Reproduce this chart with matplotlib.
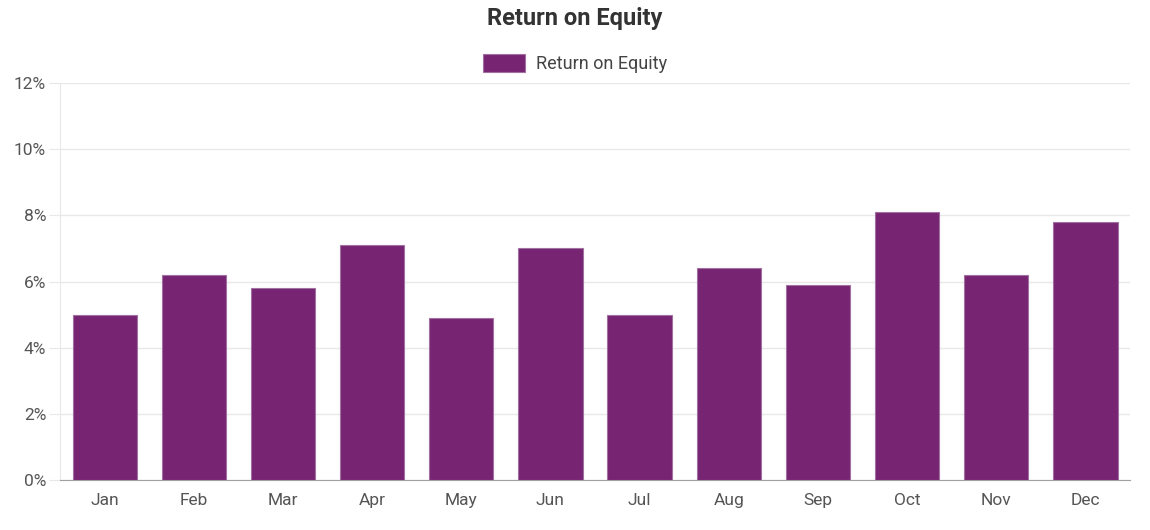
import matplotlib.pyplot as plt
from matplotlib.ticker import FuncFormatter

months = ['Jan', 'Feb', 'Mar', 'Apr', 'May', 'Jun', 'Jul', 'Aug', 'Sep', 'Oct', 'Nov', 'Dec']
roe = [5.0, 6.2, 5.8, 7.1, 4.9, 7.0, 5.0, 6.4, 5.9, 8.1, 6.2, 7.8]
yticks = [0, 2, 4, 6, 8, 10, 12]

plt.rcParams['font.family'] = ['Roboto', 'DejaVu Sans']

fig = plt.figure(figsize=(11.5, 5.3), dpi=100)
ax = fig.add_axes([0.0522, 0.0943, 0.9304, 0.7491])

ax.bar(range(len(months)), roe, width=0.72, color='#772572',
       edgecolor='#a070a0', linewidth=0.8, label='Return on Equity', zorder=3)

ax.set_xlim(-0.5, len(months) - 0.5)
ax.set_ylim(0, 12)
ax.set_yticks(yticks)
ax.yaxis.set_major_formatter(FuncFormatter(lambda v, p: f'{v:.0f}%'))
ax.set_xticks(range(len(months)))
ax.set_xticklabels(months)

ax.grid(axis='y', color='#e8e8e8', linewidth=1, zorder=0)
for s in ['top', 'right']:
    ax.spines[s].set_visible(False)
ax.spines['left'].set_color('#e8e8e8')
ax.spines['bottom'].set_color('#a0a0a0')
ax.tick_params(axis='y', length=8, color='#e8e8e8', labelsize=12.5, labelcolor='#555555', pad=2)
ax.tick_params(axis='x', length=0, labelsize=12.5, labelcolor='#555555', pad=9)

fig.text(0.5, 0.965, 'Return on Equity', ha='center', va='center',
         fontsize=17, fontweight='bold', color='#333333')
fig.legend(loc='center', bbox_to_anchor=(0.5, 0.88), frameon=False, fontsize=13,
           handlelength=2.3, handleheight=1.2, handletextpad=0.6, labelcolor='#444444')

fig.savefig('out.png', dpi=100)
